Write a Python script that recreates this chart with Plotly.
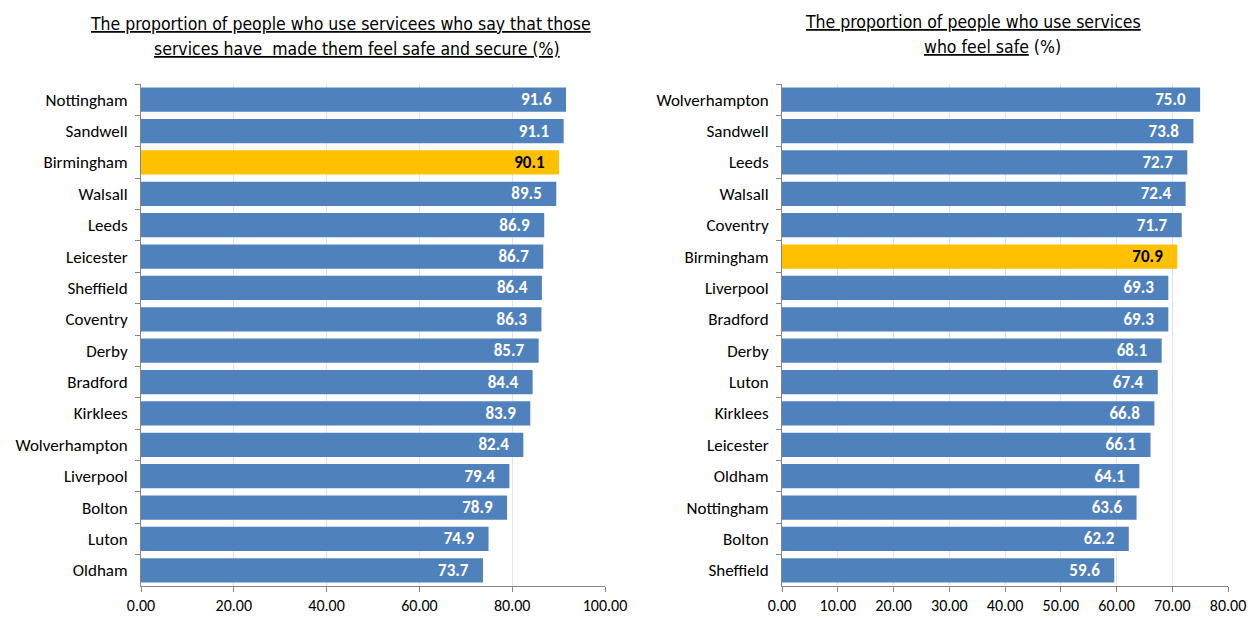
import plotly.graph_objects as go

# Left panel: feel safe and secure because of services (%)
secure_areas = ["Nottingham", "Sandwell", "Birmingham", "Walsall", "Leeds", "Leicester",
                "Sheffield", "Coventry", "Derby", "Bradford", "Kirklees", "Wolverhampton",
                "Liverpool", "Bolton", "Luton", "Oldham"]
secure_values = [91.6, 91.1, 90.1, 89.5, 86.9, 86.7, 86.4, 86.3, 85.7, 84.4, 83.9, 82.4,
                 79.4, 78.9, 74.9, 73.7]

# Right panel: feel safe (%)
safe_areas = ["Wolverhampton", "Sandwell", "Leeds", "Walsall", "Coventry", "Birmingham",
              "Liverpool", "Bradford", "Derby", "Luton", "Kirklees", "Leicester", "Oldham",
              "Nottingham", "Bolton", "Sheffield"]
safe_values = [75.0, 73.8, 72.7, 72.4, 71.7, 70.9, 69.3, 69.3, 68.1, 67.4, 66.8, 66.1,
               64.1, 63.6, 62.2, 59.6]

secure_ticks = [0, 20, 40, 60, 80, 100]
safe_ticks = [0, 10, 20, 30, 40, 50, 60, 70, 80]

secure_title = ["<u>The proportion of people who use servicees who say that those</u>",
                "<u>services have  made them feel safe and secure (%)</u>"]
safe_title = ["<u>The proportion of people who use services</u>",
              "<u>who feel safe</u> (%)"]

HIGHLIGHT = "Birmingham"
BLUE = "#4f81bd"
GOLD = "#ffc000"
LABEL_FONT = "Carlito, Lato, 'Open Sans', sans-serif"
TITLE_FONT = "'Liberation Sans Narrow', 'Arial Narrow', 'DejaVu Sans Condensed', sans-serif"
W, H = 1253, 619


def bar_trace(areas, values, xa, ya):
    colors = [GOLD if a == HIGHLIGHT else BLUE for a in areas]
    txtcol = ["#000000" if a == HIGHLIGHT else "#ffffff" for a in areas]
    return go.Bar(
        y=areas, x=values, orientation="h",
        marker=dict(color=colors, line=dict(width=0)),
        text=[f"{v:.1f}   " for v in values],
        textposition="inside", insidetextanchor="end",
        textfont=dict(family=LABEL_FONT, size=17, color=txtcol, weight="bold"),
        constraintext="none", cliponaxis=False,
        xaxis=xa, yaxis=ya, showlegend=False, hoverinfo="skip",
    )


def title_line(text, cx, cy):
    return dict(text=text, x=cx / W, y=1 - cy / H, xref="paper", yref="paper",
                xanchor="center", yanchor="middle", showarrow=False,
                font=dict(family=TITLE_FONT, size=17.5, color="#000000"))


fig = go.Figure()
fig.add_trace(bar_trace(secure_areas, secure_values, "x", "y"))
fig.add_trace(bar_trace(safe_areas, safe_values, "x2", "y2"))

ydom = [1 - 586 / H, 1 - 84 / H]
axis_line = "#868686"
grid = "#dce4ee"

common_x = dict(
    showgrid=True, gridcolor=grid, gridwidth=1,
    showline=True, linecolor=axis_line, linewidth=1,
    ticks="outside", ticklen=5, tickcolor=axis_line,
    tickformat=".2f", zeroline=False, automargin=False,
    tickfont=dict(family=LABEL_FONT, size=16, color="#000000"),
)
common_y = dict(
    autorange="reversed", showline=True, linecolor=axis_line, linewidth=1,
    ticks="outside", ticklen=5, tickcolor=axis_line, tickson="boundaries",
    showgrid=False, domain=ydom, automargin=False, ticklabelstandoff=9,
    tickfont=dict(family=LABEL_FONT, size=17, color="#000000"),
)

fig.update_layout(
    width=W, height=H,
    margin=dict(l=0, r=0, t=0, b=0, autoexpand=False),
    paper_bgcolor="#ffffff", plot_bgcolor="#ffffff",
    bargap=0.23,
    xaxis=dict(domain=[141 / W, 605 / W], range=[0, 100],
               tickvals=secure_ticks, anchor="y", **common_x),
    yaxis=dict(anchor="x", **common_y),
    xaxis2=dict(domain=[782 / W, 1228 / W], range=[0, 80],
                tickvals=safe_ticks, anchor="y2", **common_x),
    yaxis2=dict(anchor="x2", **common_y),
    annotations=[
        title_line(secure_title[0], 341, 24),
        title_line(secure_title[1], 357, 49),
        title_line(safe_title[0], 973, 22),
        title_line(safe_title[1], 992, 47),
    ],
)

fig.write_html("out.html")
